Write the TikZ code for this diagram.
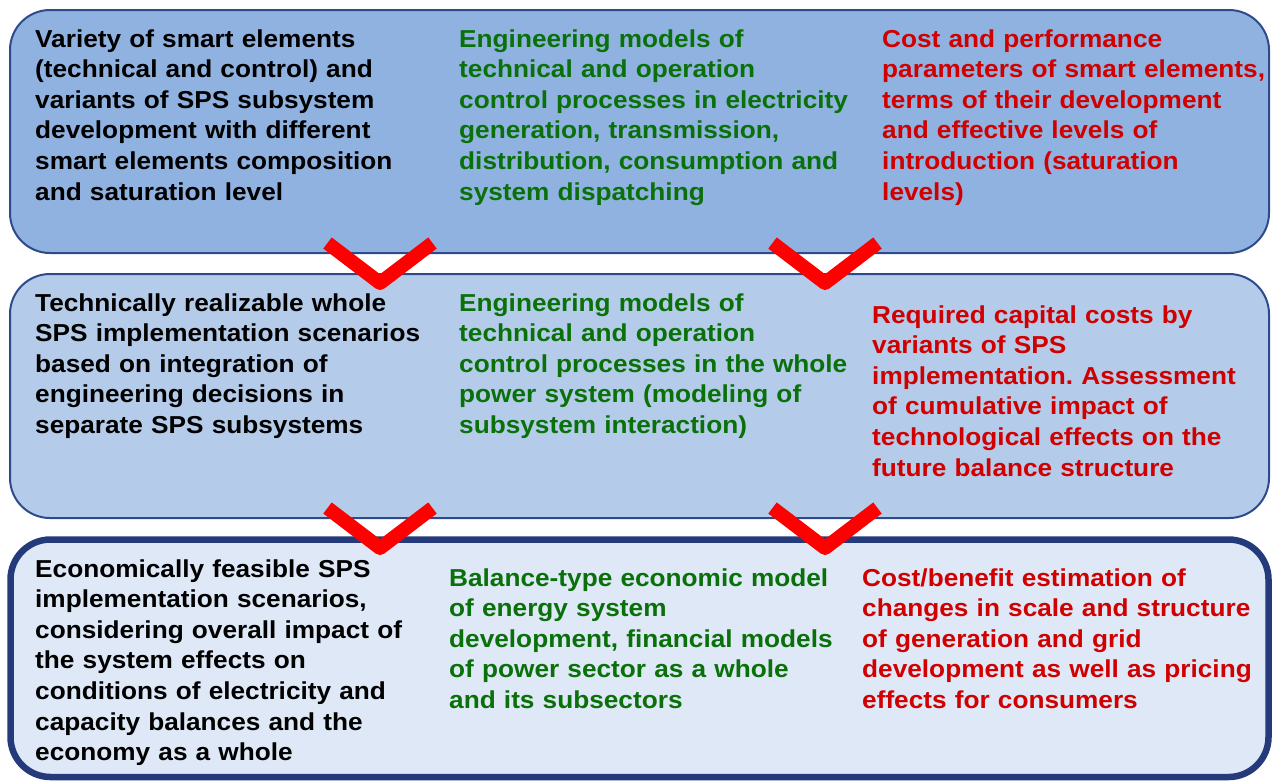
\documentclass[tikz,border=0pt]{standalone}
\usepackage{fontspec}
\setmainfont[FakeStretch=1.07]{Liberation Sans}
\usepackage{xcolor}
\usetikzlibrary{positioning}

\definecolor{rowA}{HTML}{8FB2E0}
\definecolor{rowB}{HTML}{B4CCEA}
\definecolor{rowC}{HTML}{DEE8F6}
\definecolor{rim}{HTML}{2E4A8A}
\definecolor{rimdark}{HTML}{243A7A}
\definecolor{txtgreen}{HTML}{0A700A}
\definecolor{txtred}{HTML}{D00000}
\frenchspacing

\begin{document}
\begin{tikzpicture}[
    x=1pt, y=-1pt,
    row/.style={draw=rim, line width=2pt, rounded corners=40pt, inner sep=0pt},
    chev/.style={draw=red, line width=14pt, line join=round},
    txt/.style={anchor=base west, inner sep=0pt, text width=420pt, align=left,
        font=\fontsize{24.5}{30.6}\selectfont\bfseries}
]
\useasboundingbox (0,0) rectangle (1281,780);

\node[row, fill=rowA, minimum width=1259pt, minimum height=243pt] (top) at (639.5,131.5) {};
\node[row, fill=rowB, minimum width=1259pt, minimum height=244pt] (mid) at (639.5,396) {};
\node[row, fill=rowC, draw=rimdark, line width=6.5pt, minimum width=1258pt, minimum height=237.5pt] (bot) at (639.5,658.25) {};

\coordinate (tmL) at (380,283);
\coordinate (tmR) at (825,283);
\coordinate (mbL) at (380,548);
\coordinate (mbR) at (825,548);

\draw[chev] (tmL) ++(-52.5,-40) -- (tmL) -- ++(52.5,-40);
\draw[chev] (tmR) ++(-52.5,-40) -- (tmR) -- ++(52.5,-40);
\draw[chev] (mbL) ++(-52.5,-40) -- (mbL) -- ++(52.5,-40);
\draw[chev] (mbR) ++(-52.5,-40) -- (mbR) -- ++(52.5,-40);

\node[txt] (topvar) at (35,47) {Variety of smart elements\\(technical and control) and\\variants of SPS subsystem\\development with different\\smart elements composition\\and saturation level};
\node[txt, text=txtgreen] (topeng) at (459,47) {Engineering models of\\technical and operation\\control processes in electricity\\generation, transmission,\\distribution, consumption and\\system dispatching};
\node[txt, text=txtred] (topcost) at (882,47) {Cost and performance\\parameters of smart elements,\\terms of their development\\and effective levels of\\introduction (saturation\\levels)};

\node[txt] (midtech) at (35,311) {Technically realizable whole\\SPS implementation scenarios\\based on integration of\\engineering decisions in\\separate SPS subsystems};
\node[txt, text=txtgreen] (mideng) at (459,311) {Engineering models of\\technical and operation\\control processes in the whole\\power system (modeling of\\subsystem interaction)};
\node[txt, text=txtred] (midcap) at (872,323) {Required capital costs by\\variants of SPS\\implementation. Assessment\\of cumulative impact of\\technological effects on the\\future balance structure};

\node[txt] (boteco) at (35,577) {Economically feasible SPS\\implementation scenarios,\\considering overall impact of\\the system effects on\\conditions of electricity and\\capacity balances and the\\economy as a whole};
\node[txt, text=txtgreen] (botbal) at (449,586) {Balance-type economic model\\of energy system\\development, financial models\\of power sector as a whole\\and its subsectors};
\node[txt, text=txtred] (botben) at (862,586) {Cost/benefit estimation of\\changes in scale and structure\\of generation and grid\\development as well as pricing\\effects for consumers};
\end{tikzpicture}
\end{document}
